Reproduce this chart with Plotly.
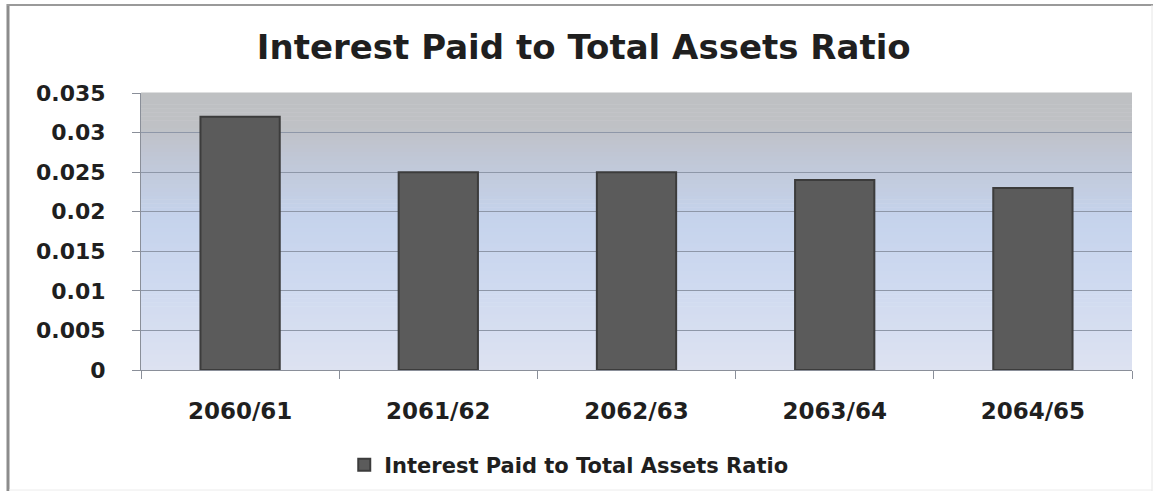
import plotly.graph_objects as go

# Ratio of interest paid to total assets, by fiscal year
years = ["2060/61", "2061/62", "2062/63", "2063/64", "2064/65"]
ratio = [0.032, 0.025, 0.025, 0.024, 0.023]
series_name = "Interest Paid to Total Assets Ratio"
y_ticks = [0, 0.005, 0.01, 0.015, 0.02, 0.025, 0.03, 0.035]
y_tick_text = ["0", "0.005", "0.01", "0.015", "0.02", "0.025", "0.03", "0.035"]

W, H = 1156, 495
M_L, M_R, M_T, M_B = 141, 24, 93, 125
PW, PH = W - M_L - M_R, H - M_T - M_B

FONT = "DejaVu Sans"
TXT = "#1f1f1f"

fig = go.Figure()
fig.add_trace(go.Bar(
    x=years, y=ratio, name="<b>%s</b>" % series_name,
    marker=dict(color="#5b5b5b", line=dict(color="#3c3c3c", width=2)),
    showlegend=True,
))

# Vertical gradient for the plot background: gray at top, pale blue below
stops = [
    (0.00, (221, 226, 241)),
    (0.30, (207, 218, 240)),
    (0.55, (197, 211, 236)),
    (0.78, (192, 198, 212)),
    (0.88, (191, 193, 197)),
    (1.00, (190, 192, 194)),
]


def lerp_color(t):
    for (t0, c0), (t1, c1) in zip(stops[:-1], stops[1:]):
        if t0 <= t <= t1:
            f = (t - t0) / (t1 - t0) if t1 > t0 else 0
            return "rgb(%d,%d,%d)" % tuple(round(a + (b - a) * f) for a, b in zip(c0, c1))
    return "rgb(%d,%d,%d)" % stops[-1][1]


shapes = []
n = 70
for i in range(n):
    y0, y1 = i / n, (i + 1) / n
    shapes.append(dict(
        type="rect", xref="x domain", yref="y domain",
        x0=0, x1=1, y0=y0, y1=y1 + 0.002,
        fillcolor=lerp_color((y0 + y1) / 2), line=dict(width=0), layer="below",
    ))


def px_x(px):
    return (px - M_L) / PW


def px_y(py):
    return (H - M_B - py) / PH


# Chart frame: heavy gray left and top edges, faint right and bottom edges
shapes += [
    dict(type="line", xref="paper", yref="paper", x0=px_x(8), x1=px_x(8),
         y0=px_y(4), y1=px_y(491), line=dict(color="#8c8c8c", width=3)),
    dict(type="line", xref="paper", yref="paper", x0=px_x(7), x1=px_x(1153),
         y0=px_y(5), y1=px_y(5), line=dict(color="#9a9a9a", width=2)),
    dict(type="line", xref="paper", yref="paper", x0=px_x(1152), x1=px_x(1152),
         y0=px_y(5), y1=px_y(491), line=dict(color="#e6e6e6", width=1)),
    dict(type="line", xref="paper", yref="paper", x0=px_x(9), x1=px_x(1152),
         y0=px_y(490), y1=px_y(490), line=dict(color="#ececec", width=1)),
]

fig.update_layout(
    width=W, height=H,
    margin=dict(l=M_L, r=M_R, t=M_T, b=M_B),
    paper_bgcolor="white",
    plot_bgcolor="rgba(0,0,0,0)",
    bargap=0.6,
    shapes=shapes,
    title=dict(
        text="<b>Interest Paid to Total Assets Ratio</b>",
        font=dict(family=FONT, size=34, color=TXT),
        x=0.505, xref="container", xanchor="center",
        y=1 - 47 / H, yref="container", yanchor="middle",
    ),
    legend=dict(
        orientation="h", x=0.492, xref="container", xanchor="center",
        y=1 - 465 / H, yref="container", yanchor="middle",
        font=dict(family=FONT, size=21, color=TXT),
        itemwidth=30, bgcolor="rgba(0,0,0,0)",
    ),
    font=dict(family=FONT, color=TXT),
)

fig.update_xaxes(
    showgrid=False, showline=True, linecolor="#8a8f99", linewidth=1,
    ticks="outside", ticklen=8, tickcolor="#8a8f99", tickson="boundaries",
    tickfont=dict(family=FONT, size=23, color=TXT),
    ticklabelstandoff=20,
    tickprefix="<b>", ticksuffix="</b>",
)
fig.update_yaxes(
    range=[0, 0.035], tickvals=y_ticks,
    ticktext=["<b>%s</b>" % t for t in y_tick_text],
    showgrid=True, gridcolor="#8e97a8", gridwidth=1, zeroline=False,
    showline=True, linecolor="#8a8f99", linewidth=1,
    ticks="outside", ticklen=8, tickcolor="#8a8f99",
    tickfont=dict(family=FONT, size=22, color=TXT),
    ticklabelstandoff=22,
)

fig.write_html("out.html")
